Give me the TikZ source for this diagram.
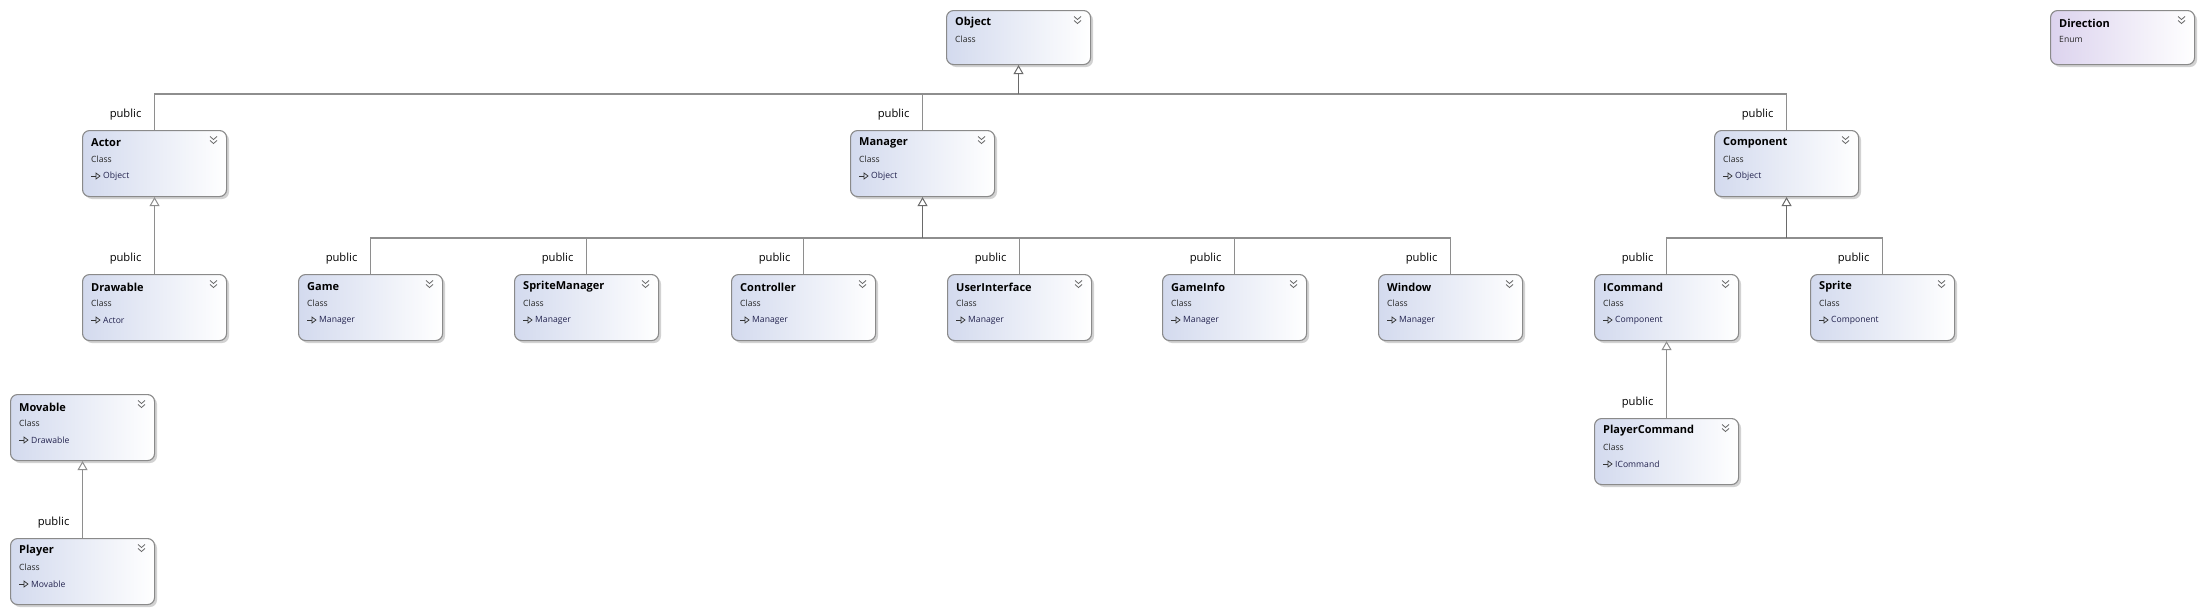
\documentclass[tikz,border=0pt]{standalone}
\usepackage{fontspec}
\setmainfont{Open Sans}
\usetikzlibrary{arrows.meta}
\definecolor{bordc}{HTML}{8A8A8A}
\definecolor{shadc}{HTML}{D2D2D2}
\definecolor{clsfill}{HTML}{D3DAEE}
\definecolor{enumfill}{HTML}{DCD3EE}
\definecolor{linec}{HTML}{8E8E8E}
\definecolor{stemc}{HTML}{6A6A6A}
\definecolor{parc}{HTML}{22224E}
\tikzset{
  boxshape/.style={draw=bordc, line width=1.1pt, rounded corners=7pt, minimum width=144pt, inner sep=0pt, right color=white},
  nametext/.style={font=\fontsize{11}{12}\selectfont\bfseries, inner sep=0pt, anchor=west, text=black},
  smalltext/.style={font=\fontsize{8.6}{10}\selectfont, inner sep=0pt, anchor=west, text=black!85},
  partext/.style={font=\fontsize{8.6}{10}\selectfont, inner sep=0pt, anchor=west, text=parc},
  pubtext/.style={font=\fontsize{11.2}{13}\selectfont, inner sep=0pt, anchor=east, xshift=-13pt, yshift=15pt},
  chev/.style={draw=black!60, line width=0.8pt},
  conn/.style={draw=linec, line width=1.1pt},
  stem/.style={draw=stemc, line width=1.5pt},
  inh/.style={-{Triangle[fill=white, length=9pt, width=10pt, line width=1pt]}},
}
% id, x, y, height, title, kind, parent, fill
\newcommand\umlbox[8]{%
  \fill[shadc, rounded corners=7pt] (#2+3,#3+3) rectangle (#2+147,#3+#4+3);
  \node[boxshape, left color=#8, minimum height=#4pt, anchor=north west] (#1) at (#2,#3) {};
  \node[nametext] (#1-t) at (#2+9,#3+13) {#5};
  \node[smalltext] (#1-k) at (#2+9,#3+29) {#6};
  \draw[chev] (#2+128,#3+6.5) -- (#2+131.5,#3+9.5) -- (#2+135,#3+6.5);
  \draw[chev] (#2+128,#3+10.5) -- (#2+131.5,#3+13.5) -- (#2+135,#3+10.5);
  \ifx\relax#7\relax\else
    \draw[draw=black!80, line width=0.8pt] (#2+9,#3+46) -- (#2+14,#3+46);
    \draw[draw=black!80, line width=0.7pt] (#2+14,#3+43) -- (#2+18,#3+46) -- (#2+14,#3+49) -- cycle;
    \node[partext] (#1-p) at (#2+21,#3+46) {#7};
  \fi
}
\begin{document}
\begin{tikzpicture}[x=1pt,y=-1pt]
\fill[white] (0,0) rectangle (2203,613);
\useasboundingbox (0,0) rectangle (2203,613);
\umlbox{Object}{946}{10}{54}{Object}{Class}{}{clsfill}
\umlbox{Direction}{2050}{10}{54}{Direction}{Enum}{}{enumfill}
\umlbox{Actor}{82}{130}{66}{Actor}{Class}{Object}{clsfill}
\umlbox{Manager}{850}{130}{66}{Manager}{Class}{Object}{clsfill}
\umlbox{Component}{1714}{130}{66}{Component}{Class}{Object}{clsfill}
\umlbox{Drawable}{82}{274}{66}{Drawable}{Class}{Actor}{clsfill}
\umlbox{Game}{298}{274}{66}{Game}{Class}{Manager}{clsfill}
\umlbox{SpriteManager}{514}{274}{66}{SpriteManager}{Class}{Manager}{clsfill}
\umlbox{Controller}{731}{274}{66}{Controller}{Class}{Manager}{clsfill}
\umlbox{UserInterface}{947}{274}{66}{UserInterface}{Class}{Manager}{clsfill}
\umlbox{GameInfo}{1162}{274}{66}{GameInfo}{Class}{Manager}{clsfill}
\umlbox{Window}{1378}{274}{66}{Window}{Class}{Manager}{clsfill}
\umlbox{ICommand}{1594}{274}{66}{ICommand}{Class}{Component}{clsfill}
\umlbox{Sprite}{1810}{274}{66}{Sprite}{Class}{Component}{clsfill}
\umlbox{Movable}{10}{394}{66}{Movable}{Class}{Drawable}{clsfill}
\umlbox{Player}{10}{538}{66}{Player}{Class}{Movable}{clsfill}
\umlbox{PlayerCommand}{1594}{418}{66}{PlayerCommand}{Class}{ICommand}{clsfill}
% buses
\coordinate (obus) at (Object.south |- 0,94);
\coordinate (mbus) at (Manager.south |- 0,238);
\coordinate (cbus) at (Component.south |- 0,238);
\foreach \c in {Actor,Manager,Component}{
  \draw[conn] (\c.north) |- (obus);
  \node[pubtext] (\c-pub) at (\c.north) {public};
}
\foreach \c in {Game,SpriteManager,Controller,UserInterface,GameInfo,Window}{
  \draw[conn] (\c.north) |- (mbus);
  \node[pubtext] (\c-pub) at (\c.north) {public};
}
\foreach \c in {ICommand,Sprite}{
  \draw[conn] (\c.north) |- (cbus);
  \node[pubtext] (\c-pub) at (\c.north) {public};
}
\draw[stem, inh] (obus) -- (Object.south);
\draw[stem, inh] (mbus) -- (Manager.south);
\draw[stem, inh] (cbus) -- (Component.south);
\draw[conn, inh] (Drawable.north) -- (Actor.south);
\node[pubtext] (Drawable-pub) at (Drawable.north) {public};
\draw[conn, inh] (PlayerCommand.north) -- (ICommand.south);
\node[pubtext] (PlayerCommand-pub) at (PlayerCommand.north) {public};
\draw[conn, inh] (Player.north) -- (Movable.south);
\node[pubtext] (Player-pub) at (Player.north) {public};
\end{tikzpicture}
\end{document}
